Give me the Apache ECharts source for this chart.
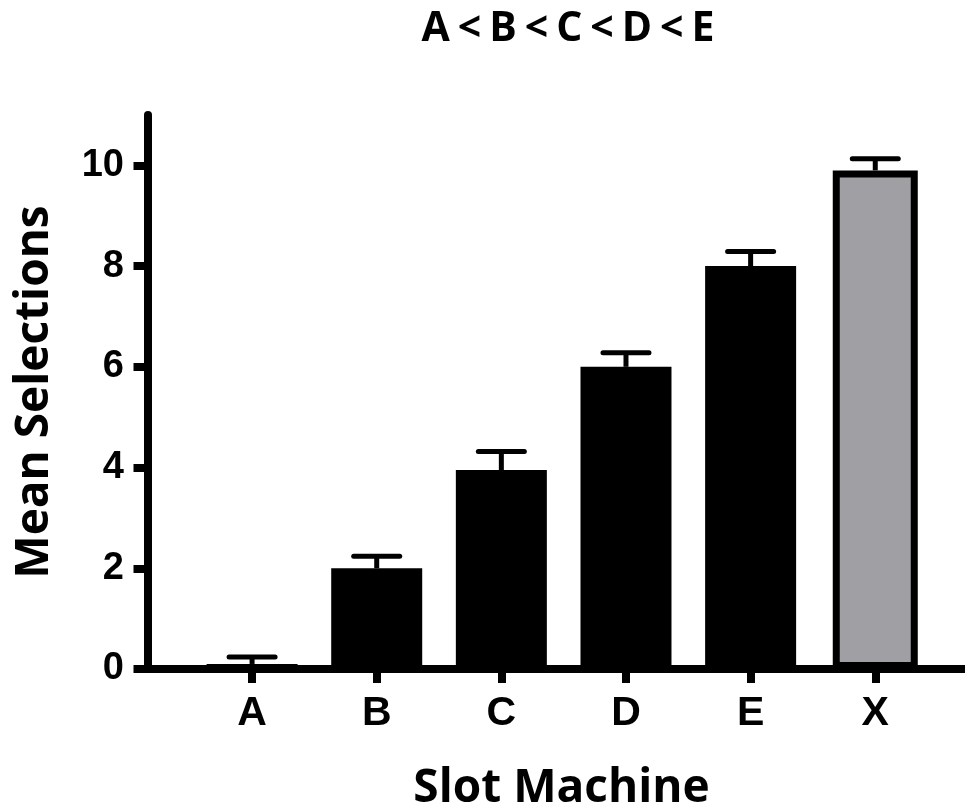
<!DOCTYPE html>
<html><head><meta charset="utf-8">
<script src="https://cdn.jsdelivr.net/npm/echarts@6/dist/echarts.min.js"></script>
<style>html,body{margin:0;padding:0;background:#fff}#c{width:965px;height:808px}</style>
</head><body><div id="c"></div>
<script>
const categories = ['A', 'B', 'C', 'D', 'E', 'X'];
const means = [0.1, 2.0, 3.95, 6.0, 8.0, 9.9];
const errUpper = [0.24, 2.24, 4.32, 6.28, 8.29, 10.13];
const yTicks = [0, 2, 4, 6, 8, 10];
const greyCategory = 'X';
const titleParts = ['A', '<', 'B', '<', 'C', '<', 'D', '<', 'E'];
const xName = 'Slot Machine';
const yName = 'Mean Selections';

const xPos = categories.map((c, i) => i);
const blackData = categories.map((c, i) => c === greyCategory ? [i, null] : [i, means[i]]);
const greyData = categories.map((c, i) => c === greyCategory ? [i, means[i]] : [i, null]);
const errData = categories.map((c, i) => [i, means[i], errUpper[i]]);
const titleRich = titleParts.map(p => p === '<' ? '{lt|<}' : '{ch|' + p + '}').join('');

const lblFont = 'Liberation Sans, Arial, sans-serif';
const nameFont = 'Open Sans, sans-serif';

const chart = echarts.init(document.getElementById('c'), null, {renderer: 'canvas'});
const xBase = {
  type: 'value', min: -0.835, max: 5.72,
  splitLine: {show: false}
};
chart.setOption({
  animation: false,
  backgroundColor: '#fff',
  title: {
    text: titleRich, left: 563, top: 4, textAlign: 'center',
    textStyle: {
      fontFamily: nameFont, fontWeight: 'bold', fontSize: 41, color: '#000',
      rich: {
        ch: {fontFamily: nameFont, fontWeight: 'bold', fontSize: 41, color: '#000'},
        lt: {fontFamily: nameFont, fontWeight: 'bold', fontSize: 41, color: '#000', padding: [0, 8, 0, 8]}
      }
    }
  },
  grid: {left: 148, right: 0, top: 115, bottom: 139, containLabel: false, outerBoundsMode: 'none'},
  xAxis: [
    Object.assign({}, xBase, {
      name: xName, nameLocation: 'middle', nameGap: 97,
      nameTextStyle: {fontFamily: nameFont, fontWeight: 'bold', fontSize: 46, color: '#000', padding: [0, 0, 0, 10]},
      axisLine: {show: true, onZero: false, lineStyle: {color: '#000', width: 8}},
      axisTick: {show: true, length: 14, customValues: xPos, lineStyle: {color: '#000', width: 8}},
      axisLabel: {
        show: true, margin: 24, customValues: xPos,
        formatter: v => categories[Math.round(v)] || '',
        fontFamily: lblFont, fontWeight: 'bold', fontSize: 41, color: '#000'
      }
    }),
    Object.assign({}, xBase, {show: false})
  ],
  yAxis: {
    type: 'value', min: 0, max: 11,
    name: yName, nameLocation: 'middle', nameGap: 90,
    nameTextStyle: {fontFamily: nameFont, fontWeight: 'bold', fontSize: 46, color: '#000'},
    splitLine: {show: false},
    axisLine: {show: true, onZero: false, lineStyle: {color: '#000', width: 8}},
    axisTick: {show: true, length: 14.5, customValues: yTicks, lineStyle: {color: '#000', width: 8}},
    axisLabel: {
      show: true, margin: 24, customValues: yTicks,
      fontFamily: lblFont, fontWeight: 'bold', fontSize: 38, color: '#000'
    }
  },
  series: [
    {
      type: 'bar', xAxisIndex: 0, data: blackData, barWidth: 91,
      itemStyle: {color: '#000'}, z: 2
    },
    {
      type: 'bar', xAxisIndex: 1, data: greyData, barWidth: 85,
      itemStyle: {color: '#a09fa4', borderColor: '#000', borderWidth: 7}, z: 2
    },
    {
      type: 'custom', xAxisIndex: 0, data: errData, z: 3,
      renderItem: function (params, api) {
        const x = api.value(0);
        const lo = api.coord([x, api.value(1)]);
        const hi = api.coord([x, api.value(2)]);
        const half = 23;
        return {
          type: 'group',
          children: [
            {type: 'line', shape: {x1: lo[0], y1: lo[1], x2: hi[0], y2: hi[1]},
             style: {stroke: '#000', lineWidth: 5}},
            {type: 'line', shape: {x1: hi[0] - half, y1: hi[1], x2: hi[0] + half, y2: hi[1]},
             style: {stroke: '#000', lineWidth: 5, lineCap: 'round'}}
          ]
        };
      }
    }
  ]
});
</script></body></html>
